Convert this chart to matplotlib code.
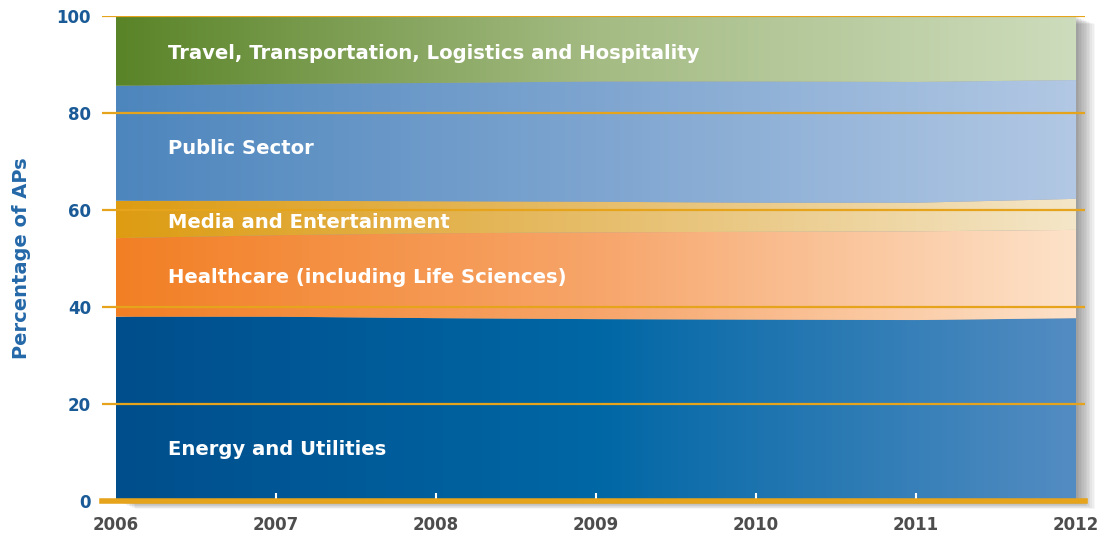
import matplotlib
matplotlib.use("Agg")
import matplotlib.pyplot as plt
import numpy as np
from matplotlib.colors import to_rgb
from matplotlib.patches import Rectangle

years = [2006, 2007, 2008, 2009, 2010, 2011, 2012]
energy = [38.0, 38.0, 37.7, 37.5, 37.4, 37.3, 37.7]
healthcare = [16.2, 16.8, 17.5, 17.9, 18.1, 18.3, 18.2]
media = [7.7, 7.1, 6.6, 6.3, 6.0, 5.9, 6.4]
public = [23.7, 24.1, 24.4, 24.8, 25.0, 24.9, 24.5]
travel = [14.4, 14.0, 13.8, 13.5, 13.5, 13.6, 13.2]

layers = [
    ("Energy and Utilities", energy, ["#004e8c", "#0067a5", "#538cc2"], 10.6),
    ("Healthcare (including Life Sciences)", healthcare, ["#f27f24", "#f7a56a", "#fde2c9"], 46.0),
    ("Media and Entertainment", media, ["#dd9c12", "#e6bd6a", "#f4e6c8"], 57.4),
    ("Public Sector", public, ["#4d86bd", "#7ea5d0", "#b2c8e4"], 72.6),
    ("Travel, Transportation, Logistics and Hospitality", travel, ["#5a8428", "#a4bb83", "#cddcbc"], 92.2),
]

GRID = "#e5a41c"


def gradient(colors, n=256):
    stops = np.linspace(0, 1, len(colors))
    rgb = np.array([to_rgb(c) for c in colors])
    t = np.linspace(0, 1, n)
    img = np.stack([np.interp(t, stops, rgb[:, k]) for k in range(3)], axis=-1)
    return img[np.newaxis, :, :]


fig = plt.figure(figsize=(11.06, 5.35), dpi=100)
ax = fig.add_axes([102 / 1106, 34 / 535, 983 / 1106, 485 / 535])
ax.set_xlim(2006 - 14 / 160, 2012 + 9 / 160)
ax.set_ylim(0, 100)

# soft drop shadow to the right and below
for i in range(12):
    off = (i + 1) * 0.01
    ax.add_patch(Rectangle((2006 + off, -off * 14), 6, 100, facecolor="black",
                           alpha=0.035, edgecolor="none", zorder=0, clip_on=False))

base = np.zeros(len(years))
for name, vals, cols, ly in layers:
    top = base + np.array(vals)
    poly = ax.fill_between(years, base, top, facecolor="none", edgecolor="none", zorder=1)
    im = ax.imshow(gradient(cols), extent=[2006, 2012, base.min(), top.max()],
                   aspect="auto", origin="lower", zorder=1, interpolation="bilinear")
    im.set_clip_path(poly.get_paths()[0], transform=ax.transData)
    ax.text(2006.325, ly, name, color="white", fontsize=14.1, fontweight="bold",
            family="DejaVu Sans", va="center", ha="left", zorder=5)
    base = top

for y in [20, 40, 60, 80, 100]:
    ax.axhline(y, color=GRID, lw=1.6, zorder=3)
ax.axhline(0, color=GRID, lw=4, zorder=3, clip_on=False)

for s in ax.spines.values():
    s.set_visible(False)

ax.set_xticks(years)
ax.set_xticklabels([str(y) for y in years])
ax.tick_params(axis="x", direction="in", length=6, width=1.5, color="white",
               labelsize=12, labelcolor="#4d4d4d", pad=11)
for lbl in ax.get_xticklabels():
    lbl.set_fontweight("bold")
for t in ax.xaxis.get_major_ticks()[::6]:
    t.tick1line.set_visible(False)

ax.set_yticks([0, 20, 40, 60, 80, 100])
ax.tick_params(axis="y", length=0, labelsize=12, labelcolor="#1a5b97", pad=8)
for lbl in ax.get_yticklabels():
    lbl.set_fontweight("bold")

ax.set_ylabel("Percentage of APs", color="#2468a8", fontsize=14, fontweight="bold",
              labelpad=18)

fig.savefig("out.png", dpi=100)
